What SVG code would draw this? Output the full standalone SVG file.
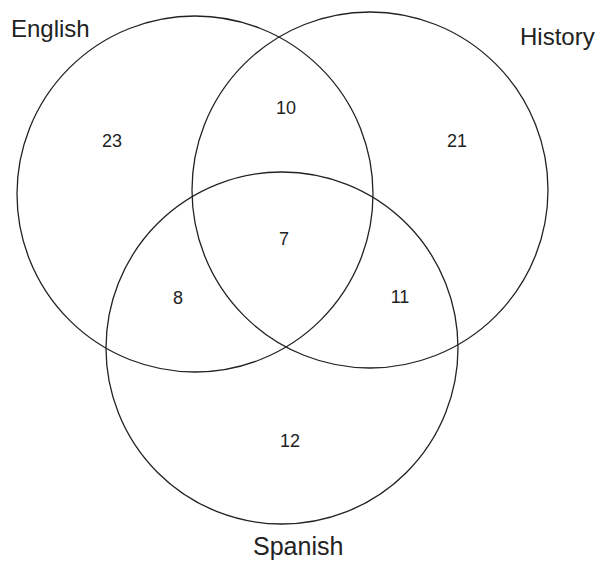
<svg xmlns="http://www.w3.org/2000/svg" width="600" height="563" viewBox="0 0 600 563">
<style>
.c{fill:none;stroke:#222;stroke-width:1.3}
.lbl{font-family:"Liberation Sans",Arial,sans-serif;font-size:24px;fill:#222}
.n{font-family:"Liberation Sans",Arial,sans-serif;font-size:18px;fill:#222;text-anchor:middle}
</style>
<rect width="600" height="563" fill="#fff"/>
<g id="connectors"></g>
<g id="english"><circle class="c" cx="195" cy="194" r="178"/><text class="lbl" x="11" y="37">English</text></g>
<g id="history"><circle class="c" cx="370" cy="190" r="178"/><text class="lbl" x="520" y="45">History</text></g>
<g id="spanish"><circle class="c" cx="282" cy="348" r="176"/><text class="lbl" x="253" y="555" style="font-size:25px">Spanish</text></g>
<g id="counts">
<text class="n" x="112" y="147">23</text>
<text class="n" x="457" y="147">21</text>
<text class="n" x="286" y="114">10</text>
<text class="n" x="284" y="245">7</text>
<text class="n" x="178" y="304">8</text>
<text class="n" x="400" y="303">11</text>
<text class="n" x="290" y="447">12</text>
</g>
</svg>
